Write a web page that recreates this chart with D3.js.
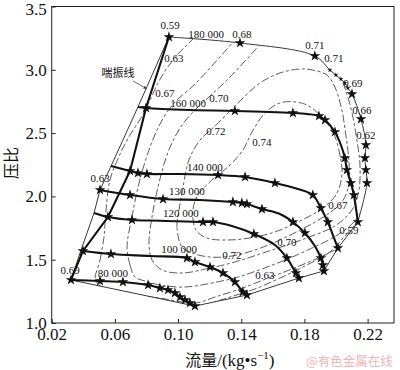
<!DOCTYPE html>
<html><head><meta charset="utf-8">
<script src="https://cdn.jsdelivr.net/npm/d3@7"></script>
<style>body{margin:0;background:#fff}</style>
</head><body>
<svg id="c" width="400" height="370"></svg>
<script>
const xTicks=[0.02,0.06,0.10,0.14,0.18,0.22];
const yTicks=[1.0,1.5,2.0,2.5,3.0,3.5];

// speed lines: [flow, pressure ratio, marker(0 none,1 star,2 small star)]
const speed80=[[0.0322,1.340,1],[0.0506,1.332,1],[0.0651,1.324,1],[0.0810,1.300,1],[0.0885,1.276,1],[0.0936,1.261,1],[0.0980,1.237,1],[0.1012,1.205,1],[0.1044,1.182,1],[0.1075,1.158,1],[0.1107,1.134,1]];
const speed100=[[0.0398,1.569,1],[0.0575,1.545,1],[0.0822,1.529,0],[0.1056,1.513,1],[0.1107,1.482,1],[0.1202,1.442,1],[0.1284,1.395,1],[0.1360,1.324,1],[0.1410,1.245,1],[0.1436,1.221,1]];
const speed120=[[0.0468,1.869,0],[0.0556,1.837,1],[0.0708,1.814,1],[0.0886,1.808,0],[0.1158,1.798,1],[0.1221,1.798,1],[0.1341,1.766,0],[0.1480,1.703,1],[0.1613,1.616,0],[0.1689,1.513,1],[0.1746,1.395,1],[0.1765,1.355,1]];
const speed130=[[0.0506,2.051,1],[0.0696,2.011,1],[0.0905,1.979,1],[0.1139,1.972,0],[0.1347,1.956,1],[0.1404,1.948,1],[0.1436,1.940,1],[0.1531,1.900,1],[0.1645,1.861,0],[0.1727,1.798,1],[0.1803,1.711,1],[0.1866,1.608,0],[0.1904,1.513,1],[0.1917,1.458,1],[0.1923,1.411,1]];
const speed140=[[0.0576,2.240,0],[0.0696,2.201,1],[0.0746,2.185,1],[0.0803,2.177,1],[0.1012,2.177,0],[0.1253,2.169,1],[0.1424,2.153,1],[0.1613,2.106,1],[0.1759,2.058,0],[0.1853,2.011,1],[0.1904,1.908,1],[0.1948,1.798,1],[0.1980,1.695,0],[0.2012,1.592,1]];
const speed160=[[0.0746,2.706,0],[0.0797,2.698,1],[0.1075,2.682,0],[0.1360,2.675,1],[0.1727,2.659,1],[0.1816,2.651,0],[0.1892,2.635,1],[0.1930,2.603,1],[0.1993,2.509,1],[0.2031,2.406,0],[0.2056,2.303,1],[0.2069,2.209,1],[0.2094,2.106,1],[0.2113,2.011,1],[0.2138,1.798,1]];
const speed180=[[0.0942,3.259,1],[0.1392,3.212,1],[0.1866,3.109,1],[0.1961,2.998,2],[0.1999,2.959,2],[0.2031,2.927,2],[0.2056,2.896,2],[0.2075,2.856,2],[0.2101,2.809,1],[0.2158,2.611,1],[0.2189,2.406,1],[0.2183,2.303,1],[0.2189,2.209,1],[0.2196,2.106,1],[0.2138,1.798,0]];

const surgeLine=[[0.0322,1.340],[0.0398,1.569],[0.0556,1.837],[0.0696,2.201],[0.0797,2.698],[0.0942,3.259]];
const surgeEnvelope=[[0.0322,1.340],[0.0386,1.577],[0.0468,1.869],[0.0506,2.051],[0.0576,2.240],[0.0746,2.706],[0.0942,3.259]];
const chokeLine=[[0.2138,1.798],[0.2012,1.592],[0.1923,1.411],[0.1765,1.355],[0.1436,1.221],[0.1107,1.134]];
const bottomLine=[[0.0322,1.340],[0.1107,1.134]];

// efficiency contours (closed, clipped to the map)
const contour74=[[0.1094,1.893],[0.1126,2.011],[0.1215,2.130],[0.1329,2.248],[0.1411,2.367],[0.1468,2.509],[0.1550,2.659],[0.1645,2.738],[0.1740,2.746],[0.1816,2.722],[0.1898,2.643],[0.1980,2.509],[0.2025,2.327],[0.2037,2.169],[0.1999,2.011],[0.1898,1.893],[0.1759,1.798],[0.1613,1.719],[0.1487,1.679],[0.1329,1.656],[0.1183,1.671],[0.1113,1.735]];
const contour72=[[0.1025,1.600],[0.0993,1.758],[0.1006,1.893],[0.1025,2.027],[0.1069,2.288],[0.1139,2.445],[0.1234,2.556],[0.1316,2.659],[0.1411,2.777],[0.1518,2.896],[0.1645,2.975],[0.1772,3.006],[0.1853,2.998],[0.1942,2.959],[0.1993,2.864],[0.2037,2.682],[0.2062,2.485],[0.2081,2.288],[0.2081,2.090],[0.2037,1.956],[0.1930,1.845],[0.1784,1.742],[0.1632,1.648],[0.1487,1.577],[0.1341,1.529],[0.1202,1.521],[0.1088,1.553]];
const contour70=[[0.0898,1.419],[0.0835,1.498],[0.0816,1.632],[0.0835,1.837],[0.0879,2.106],[0.0942,2.367],[0.1025,2.564],[0.1120,2.698],[0.1202,2.793],[0.1310,2.919],[0.1442,3.093],[0.1569,3.251],[0.1772,3.314],[0.1930,3.196],[0.2037,2.919],[0.2075,2.785],[0.2107,2.627],[0.2132,2.445],[0.2151,2.264],[0.2145,2.051],[0.2101,1.893],[0.1993,1.766],[0.1847,1.687],[0.1689,1.616],[0.1518,1.545],[0.1360,1.482],[0.1202,1.434],[0.1025,1.395]];
const contour67=[[0.0727,1.363],[0.0696,1.458],[0.0677,1.600],[0.0708,1.837],[0.0753,2.106],[0.0816,2.367],[0.0873,2.540],[0.0930,2.667],[0.0993,2.761],[0.1094,2.872],[0.1202,3.014],[0.1316,3.172],[0.1424,3.314],[0.1772,3.433],[0.2088,3.235],[0.2176,2.919],[0.2202,2.524],[0.2202,2.130],[0.2176,1.932],[0.2113,1.798],[0.1999,1.687],[0.1847,1.592],[0.1695,1.506],[0.1531,1.427],[0.1379,1.363],[0.1215,1.316],[0.1044,1.284],[0.0885,1.300],[0.0791,1.332]];
const contour63=[[0.0480,1.324],[0.0506,1.498],[0.0531,1.679],[0.0544,1.893],[0.0569,2.130],[0.0639,2.351],[0.0696,2.485],[0.0765,2.619],[0.0822,2.761],[0.0873,2.896],[0.0930,3.014],[0.1012,3.141],[0.1088,3.235],[0.1170,3.354],[0.1772,3.512],[0.2278,3.235],[0.2353,2.603],[0.2341,2.051],[0.2265,1.853],[0.2164,1.719],[0.2037,1.608],[0.1885,1.513],[0.1721,1.427],[0.1556,1.348],[0.1392,1.269],[0.1234,1.205],[0.1107,1.158],[0.0885,1.197],[0.0632,1.245]];
const contour59=[[0.0316,1.182],[0.0253,1.577],[0.0506,2.367],[0.0822,3.314],[0.2341,3.393],[0.2404,1.972],[0.2227,1.893],[0.2138,1.798],[0.2056,1.687],[0.1961,1.561],[0.1803,1.450],[0.1645,1.355],[0.1487,1.269],[0.1329,1.205],[0.1170,1.142],[0.0822,1.024]];

const mapLabels=[["0.59",0.0949,3.354],["180 000",0.1177,3.283],["0.68",0.1404,3.283],["0.71",0.1866,3.196],["0.71",0.1987,3.093],["0.69",0.2107,2.896],["0.66",0.2164,2.682],["0.62",0.2189,2.485],["0.63",0.0974,3.093],["0.67",0.0917,2.817],["160 000",0.1063,2.738],["0.70",0.1259,2.777],["0.72",0.1240,2.517],["0.74",0.1531,2.430],["140 000",0.1170,2.232],["130 000",0.1056,2.043],["120 000",0.1018,1.869],["100 000",0.1006,1.585],["80 000",0.0588,1.395],["0.63",0.0506,2.145],["0.69",0.0316,1.419],["0.72",0.1341,1.537],["0.70",0.1689,1.640],["0.63",0.1550,1.379],["0.67",0.2012,1.932],["0.59",0.2081,1.735]];
const surgeLabel=["喘振线",0.0620,2.983];
const surgeArrow=[[0.0715,2.912],[0.0803,2.849]];

const svg=d3.select('#c');
const L=51.7,R=394,T=6.5,B=323;
const x=d3.scaleLinear().domain([0.02,0.2367]).range([L,R]);
const y=d3.scaleLinear().domain([1,3.5]).range([B,T]);
const lin=d3.line().x(d=>x(d[0])).y(d=>y(d[1]));
const smooth=d3.line().x(d=>x(d[0])).y(d=>y(d[1])).curve(d3.curveCatmullRom.alpha(0.5));
const closed=d3.line().x(d=>x(d[0])).y(d=>y(d[1])).curve(d3.curveCatmullRomClosed.alpha(0.5));
const serif="'Liberation Serif','Times New Roman',serif";
const cjk="'Noto Sans CJK SC',sans-serif";

const defs=svg.append('defs');
const env=[...surgeEnvelope,...speed180.slice(1).map(d=>[d[0],d[1]]),...chokeLine.slice(1)];
defs.append('clipPath').attr('id','env').append('path').attr('d',lin(env)+'Z');
defs.append('marker').attr('id','arr').attr('viewBox','0 0 10 10').attr('refX',9).attr('refY',5)
  .attr('markerWidth',5).attr('markerHeight',5).attr('orient','auto')
  .append('path').attr('d','M0,1 L10,5 L0,9 Z').attr('fill','#444');

// contours
const cg=svg.append('g').attr('clip-path','url(#env)');
[contour74,contour72,contour70,contour67,contour63,contour59].forEach(c=>{
  cg.append('path').attr('d',closed(c)).attr('fill','none').attr('stroke','#333')
    .attr('stroke-width',0.8).attr('stroke-dasharray','8,2.5,3,2.5');
});

// thin boundary lines
[surgeEnvelope,chokeLine,bottomLine].forEach(l=>{
  svg.append('path').attr('d',lin(l)).attr('fill','none').attr('stroke','#222').attr('stroke-width',0.9);
});
svg.append('path').attr('d',smooth(speed180)).attr('fill','none').attr('stroke','#222').attr('stroke-width',0.9);

// thick lines
[speed80,speed100,speed120,speed130,speed140,speed160].forEach(l=>{
  svg.append('path').attr('d',smooth(l)).attr('fill','none').attr('stroke','#111').attr('stroke-width',2.1);
});
svg.append('path').attr('d',lin(surgeLine)).attr('fill','none').attr('stroke','#111').attr('stroke-width',2.1);

// stars
const star=d3.symbol().type(d3.symbolStar);
[speed80,speed100,speed120,speed130,speed140,speed160,speed180].forEach(l=>{
  l.filter(d=>d[2]>0).forEach(d=>{
    svg.append('path').attr('d',star.size(d[2]===2?8:36)()).attr('fill','#111')
      .attr('transform',`translate(${x(d[0])},${y(d[1])})`);
  });
});

// labels
mapLabels.forEach(d=>{
  svg.append('text').attr('x',x(d[1])).attr('y',y(d[2])).attr('text-anchor','middle')
    .attr('dominant-baseline','central').attr('font-family',serif).attr('font-size',11).attr('fill','#111').text(d[0]);
});
svg.append('text').attr('x',x(surgeLabel[1])).attr('y',y(surgeLabel[2])).attr('text-anchor','middle')
  .attr('dominant-baseline','central').attr('font-family',cjk).attr('font-size',11).attr('fill','#111').text(surgeLabel[0]);
svg.append('path').attr('d',lin(surgeArrow)).attr('stroke','#444').attr('stroke-width',0.8).attr('marker-end','url(#arr)');

// axes
const xa=svg.append('g').attr('transform',`translate(0,${B})`)
  .call(d3.axisBottom(x).tickValues(xTicks).tickSize(-4).tickPadding(5).tickFormat(d3.format('.2f')));
const ya=svg.append('g').attr('transform',`translate(${L},0)`)
  .call(d3.axisLeft(y).tickValues(yTicks).tickSize(-4).tickPadding(5).tickFormat(d3.format('.1f')));
[xa,ya].forEach(a=>{a.select('.domain').remove();a.selectAll('line').attr('stroke','#222');
  a.selectAll('text').attr('font-family',serif).attr('font-size',17).attr('fill','#111');});
ya.selectAll('.tick').filter(d=>d===3.5).select('text').attr('dy','0.45em');
svg.append('rect').attr('x',L).attr('y',T).attr('width',R-L).attr('height',B-T)
  .attr('fill','none').attr('stroke','#222').attr('stroke-width',1);

// axis titles
const xt=svg.append('text').attr('x',(L+R)/2+7).attr('y',366).attr('text-anchor','middle')
  .attr('font-family',serif).attr('font-size',17).attr('fill','#111');
xt.append('tspan').attr('font-family',cjk).attr('font-size',16).text('流量');
xt.append('tspan').text('/(kg•s');
xt.append('tspan').attr('font-size',11).attr('dy',-7).text('−1');
xt.append('tspan').attr('dy',7).text(')');
svg.append('text').attr('transform',`translate(17,163) rotate(-90)`).attr('text-anchor','middle')
  .attr('font-family',cjk).attr('font-size',16).attr('fill','#111').text('压比');
svg.append('text').attr('x',306).attr('y',366).attr('font-family',cjk).attr('font-size',12.5)
  .attr('fill','#f0b4b4').text('@有色金属在线');
</script>
</body></html>
